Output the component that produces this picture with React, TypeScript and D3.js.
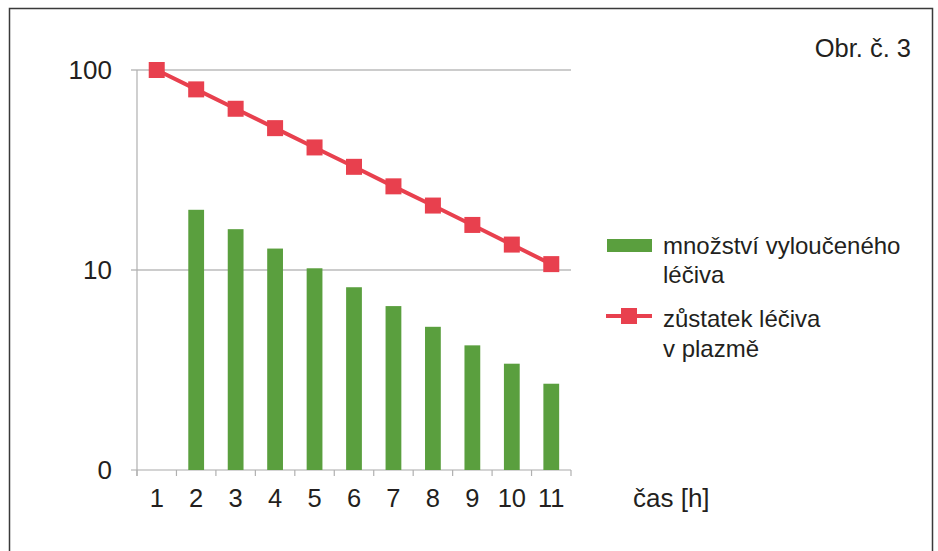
import React from "react";
import * as d3 from "d3";

// Hours after dosing
const hours = ["1", "2", "3", "4", "5", "6", "7", "8", "9", "10", "11"];
// Drug remaining in plasma (line, log scale)
const remaining = [100, 80, 64, 51.2, 41, 32.8, 26.2, 21, 16.8, 13.4, 10.7];
// Amount of drug eliminated during each hour (bars); none in the first hour
const eliminated = [null, 20, 16, 12.8, 10.2, 8.2, 6.6, 5.2, 4.2, 3.4, 2.7];
// Y axis ticks and their printed labels
const yTickValues = [1, 10, 100];
const yTickLabels = ["0", "10", "100"];

const W = 938;
const H = 551;
const FONT = "'Liberation Sans', Arial, Helvetica, sans-serif";
const TEXT = "#231f20";
const GREEN = "#5a9f3e";
const RED = "#e8404e";

export default function App() {
  const left = 137;
  const right = 571;
  const top = 70;
  const bottom = 470;

  const x = d3.scaleBand<string>().domain(hours).range([left, right]).padding(0);
  const y = d3.scaleLog().domain([1, 100]).range([bottom, top]);
  const bw = x.bandwidth();
  const barW = bw * 0.4;
  const cx = (h: string) => (x(h) as number) + bw / 2;

  const line = d3
    .line<number>()
    .x((_, i) => cx(hours[i]))
    .y((d) => y(d));

  const boundaries = hours.map((h) => x(h) as number).concat([right]);
  const mk = 16;

  return (
    <div style={{ position: "absolute", left: 0, top: 0 }}>
      <svg width={W} height={H} style={{ display: "block", background: "#fff" }}>
        {/* frame */}
        <path d={`M9.5,${H} V8.5 H932.5 V${H}`} fill="none" stroke="#3a3a3a" strokeWidth={1.5} />

        {/* horizontal gridlines */}
        {yTickValues.map((v) => (
          <line
            key={"g" + v}
            x1={left - 6}
            x2={right}
            y1={y(v)}
            y2={y(v)}
            stroke={v === 1 ? "#a9a9a9" : "#9a9a9a"}
            strokeWidth={1.2}
          />
        ))}
        {/* y axis */}
        <line x1={left} x2={left} y1={top} y2={bottom + 6} stroke="#b0b0b0" strokeWidth={1.2} />
        {/* x ticks */}
        {boundaries.map((b, i) => (
          <line key={"t" + i} x1={b} x2={b} y1={bottom} y2={bottom + 6} stroke="#b0b0b0" strokeWidth={1.2} />
        ))}

        {/* y tick labels */}
        {yTickValues.map((v, i) => (
          <text
            key={"yl" + v}
            x={112}
            y={y(v)}
            dy="0.36em"
            textAnchor="end"
            fontFamily={FONT}
            fontSize={26}
            fill={TEXT}
          >
            {yTickLabels[i]}
          </text>
        ))}

        {/* x tick labels */}
        {hours.map((h) => (
          <text
            key={"xl" + h}
            x={cx(h)}
            y={498}
            dy="0.36em"
            textAnchor="middle"
            fontFamily={FONT}
            fontSize={25.5}
            fill={TEXT}
          >
            {h}
          </text>
        ))}
        <text x={633} y={498} dy="0.36em" fontFamily={FONT} fontSize={26} fill={TEXT}>
          čas [h]
        </text>

        {/* bars */}
        {eliminated.map((v, i) =>
          v == null ? null : (
            <rect
              key={"b" + i}
              x={cx(hours[i]) - barW / 2}
              y={y(v)}
              width={barW}
              height={bottom - y(v)}
              fill={GREEN}
            />
          )
        )}

        {/* remaining drug line */}
        <path d={line(remaining) || ""} fill="none" stroke={RED} strokeWidth={4} />
        {remaining.map((v, i) => (
          <rect
            key={"m" + i}
            x={cx(hours[i]) - mk / 2}
            y={y(v) - mk / 2}
            width={mk}
            height={mk}
            fill={RED}
          />
        ))}

        {/* figure label */}
        <text x={911} y={48} dy="0.36em" textAnchor="end" fontFamily={FONT} fontSize={25.5} fill={TEXT}>
          Obr. č. 3
        </text>

        {/* legend */}
        <rect x={607} y={239} width={45} height={13} fill={GREEN} />
        <text fontFamily={FONT} fontSize={24} fill={TEXT}>
          <tspan x={663} y={245} dy="0.36em">množství vyloučeného</tspan>
          <tspan x={663} y={274} dy="0.36em">léčiva</tspan>
        </text>
        <line x1={606} x2={652} y1={316} y2={316} stroke={RED} strokeWidth={4} />
        <rect x={629 - 8} y={316 - 8} width={16} height={16} fill={RED} />
        <text fontFamily={FONT} fontSize={24} fill={TEXT}>
          <tspan x={663} y={318} dy="0.36em">zůstatek léčiva</tspan>
          <tspan x={663} y={348} dy="0.36em">v plazmě</tspan>
        </text>
      </svg>
    </div>
  );
}
